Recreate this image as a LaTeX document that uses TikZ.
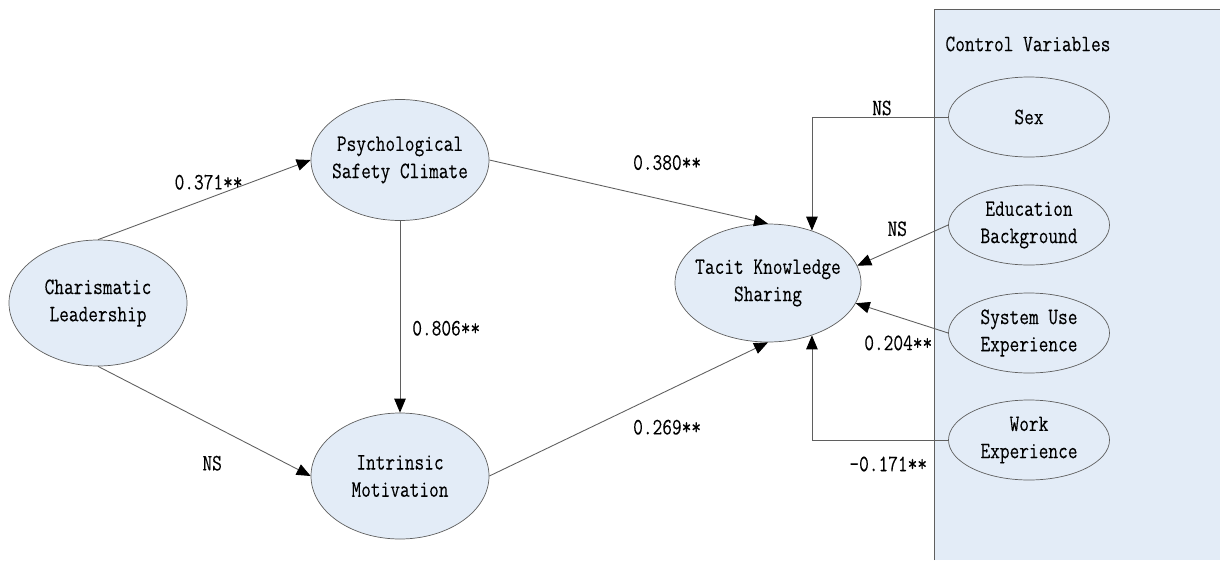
\documentclass[tikz,border=0pt]{standalone}
\usepackage{fontspec}
\setmonofont[FakeStretch=0.8, FakeBold=0.15]{Latin Modern Mono}
\usepackage{tikz}
\usetikzlibrary{arrows.meta,shapes.geometric}
\definecolor{ovalblue}{RGB}{227,236,247}
\definecolor{linegray}{RGB}{95,95,95}
\tikzset{
	var/.style={ellipse, draw=linegray, fill=ovalblue, align=center,
		inner xsep=-0.5cm, inner ysep=0pt, minimum width=3.56cm, minimum height=2.52cm},
	ctrlvar/.style={var, minimum width=3.22cm, minimum height=1.6cm},
	link/.style={draw=linegray, line width=0.5pt, -{Triangle[length=2.8mm, width=2.3mm, color=black]}}
}

\begin{document}
\begin{tikzpicture}[font=\ttfamily\fontsize{13.4}{15.5}\selectfont]
				\useasboundingbox (0,0) rectangle (24.4,-11.2);
				% control variables panel
				\fill[ovalblue] (18.68,-0.18) rectangle (24.4,-11.2);
				\draw[linegray] (18.68,-11.2) |- (24.4,-0.18);
				\node (ctrl) at (20.56,-0.88) {Control Variables};

				% latent variables
				\node[var] (cl) at (1.96,-6.06) {Charismatic\\Leadership};
				\node[var, minimum height=2.42cm] (psc) at (8.0,-3.2) {Psychological\\Safety Climate};
				\node[var] (im) at (8.0,-9.52) {Intrinsic\\Motivation};
				\node[var, minimum width=3.72cm, minimum height=2.36cm] (tks) at (15.36,-5.66) {Tacit Knowledge\\Sharing};

				% controls
				\foreach \nm/\txt/\y in {sex/Sex/-2.34, edu/{Education\\Background}/-4.5,
						sys/{System Use\\Experience}/-6.66, work/{Work\\Experience}/-8.8}
					\node[ctrlvar] (\nm) at (20.58,\y) {\txt};

				% paths
				\draw[link] (cl.north) -- (psc.west) node[pos=0.52, yshift=0.32cm]{0.371**};
				\draw[link] (cl.south) -- (im.west) node[pos=0.537, yshift=-0.76cm]{NS};
				\draw[link] (psc.south) -- (im.north) node[pos=0.56, right=0.12cm]{0.806**};
				\draw[link] (psc.east) -- (tks.north) node[pos=0.638, yshift=0.76cm]{0.380**};
				\draw[link] (im.east) -- (tks.south) node[pos=0.638, yshift=-0.73cm]{0.269**};

				\draw[link] (sex.west) -| (tks.50) node[pos=0.243, yshift=0.18cm]{NS};
				\draw[link] (edu.west) -- (tks.11) node[pos=0.56, yshift=0.38cm]{NS};
				\draw[link] (sys.west) -- (tks.-13) node[pos=0.54, yshift=-0.52cm]{0.204**};
				\draw[link] (work.west) -| (tks.-50) node[pos=0.22, yshift=-0.48cm]{-0.171**};
			\end{tikzpicture}
\end{document}
